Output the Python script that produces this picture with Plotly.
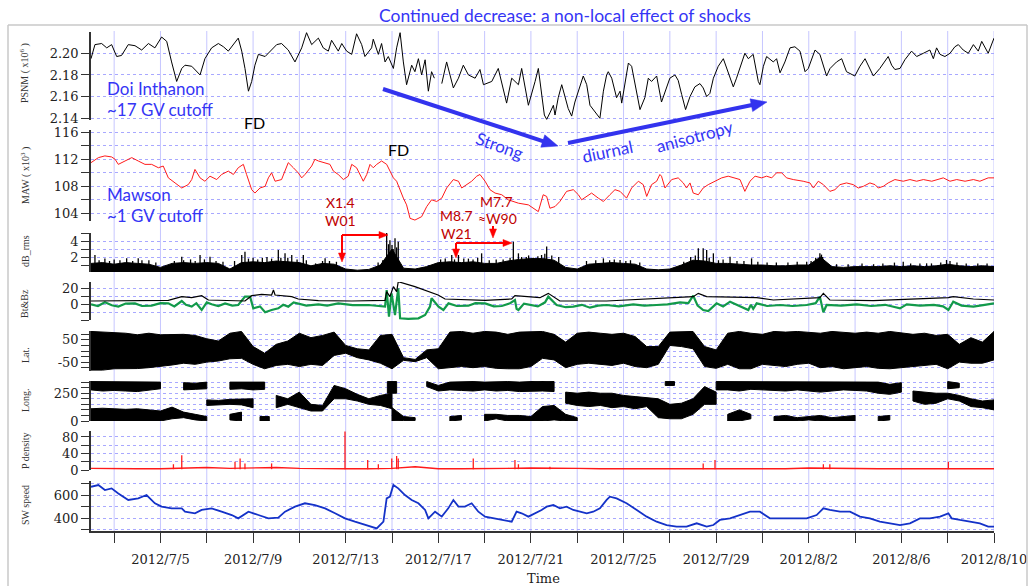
import math
import pandas as pd
import plotly.graph_objects as go

W, H = 1030, 586
T0 = pd.Timestamp("2012-07-02")

# ---------------- data: (days since 2012-07-02 00UT, value) ----------------
psnm = [(0.00,2.195),(0.17,2.208),(0.46,2.209),(0.68,2.205),(0.89,2.208),(1.11,2.197),(1.32,2.198),(1.61,2.208),(1.90,2.207),(2.19,2.203),(2.48,2.209),(2.76,2.205),(3.05,2.215),(3.27,2.211),(3.48,2.192),(3.70,2.174),(3.92,2.186),(4.06,2.189),(4.35,2.188),(4.71,2.180),(4.92,2.195),(5.21,2.205),(5.50,2.209),(5.72,2.206),(5.93,2.202),(6.15,2.208),(6.36,2.214),(6.51,2.202),(6.65,2.186),(6.80,2.165),(6.94,2.174),(7.08,2.189),(7.23,2.199),(7.52,2.197),(7.80,2.203),(8.02,2.208),(8.23,2.209),(8.52,2.203),(8.81,2.192),(9.10,2.205),(9.31,2.219),(9.53,2.208),(9.82,2.214),(10.03,2.205),(10.25,2.202),(10.39,2.212),(10.68,2.202),(10.83,2.209),(11.04,2.202),(11.26,2.199),(11.47,2.218),(11.69,2.208),(11.83,2.197),(12.12,2.205),(12.19,2.213),(12.41,2.199),(12.55,2.209),(12.70,2.192),(12.84,2.197),(13.06,2.186),(13.20,2.205),(13.35,2.219),(13.49,2.192),(13.63,2.171),(13.85,2.189),(13.99,2.183),(14.14,2.195),(14.28,2.180),(14.43,2.194),(14.57,2.165),(14.71,2.183),(14.83,2.177),(14.99,None),(15.15,2.172),(15.36,2.192),(15.65,2.168),(15.87,2.177),(16.08,2.189),(16.30,2.180),(16.59,2.177),(16.80,2.185),(16.95,2.171),(17.31,2.174),(17.59,2.186),(17.95,2.154),(18.17,2.177),(18.46,2.171),(18.60,2.186),(18.89,2.152),(19.18,2.174),(19.32,2.186),(19.58,2.143),(19.68,2.139),(19.82,2.145),(19.97,2.152),(20.04,2.143),(20.18,2.159),(20.33,2.171),(20.47,2.160),(20.61,2.149),(20.76,2.142),(20.90,2.155),(21.26,2.179),(21.41,2.171),(21.55,2.152),(21.77,2.146),(21.98,2.140),(22.13,2.165),(22.27,2.180),(22.34,2.183),(22.49,2.177),(22.70,2.159),(22.85,2.165),(22.92,2.154),(23.06,2.174),(23.21,2.191),(23.35,2.188),(23.57,2.165),(23.71,2.148),(23.92,2.159),(24.07,2.177),(24.21,2.174),(24.43,2.179),(24.64,2.155),(24.79,2.165),(25.00,2.177),(25.22,2.180),(25.36,2.175),(25.51,2.162),(25.68,2.148),(25.87,2.160),(26.08,2.169),(26.30,2.172),(26.44,2.168),(26.59,2.160),(26.73,2.163),(26.88,2.177),(27.09,2.188),(27.31,2.195),(27.52,2.183),(27.74,2.169),(27.88,2.177),(28.10,2.192),(28.24,2.200),(28.39,2.195),(28.60,2.199),(28.82,2.174),(28.89,2.171),(29.04,2.188),(29.18,2.197),(29.47,2.192),(29.61,2.195),(29.76,2.182),(29.97,2.192),(30.19,2.205),(30.40,2.206),(30.62,2.202),(30.84,2.183),(30.98,2.186),(31.27,2.203),(31.48,2.199),(31.77,2.179),(31.92,2.186),(32.20,2.192),(32.42,2.195),(32.63,2.183),(32.99,2.179),(33.21,2.188),(33.43,2.195),(33.64,2.185),(33.79,2.179),(34.07,2.186),(34.43,2.197),(34.58,2.189),(34.72,2.185),(34.94,2.186),(35.15,2.194),(35.44,2.202),(35.66,2.197),(35.95,2.200),(36.23,2.203),(36.38,2.195),(36.52,2.205),(36.67,2.199),(36.88,2.197),(37.10,2.200),(37.31,2.206),(37.46,2.208),(37.67,2.203),(37.89,2.200),(38.11,2.208),(38.32,2.202),(38.47,2.211),(38.75,2.200),(38.97,2.212),(39.00,2.214)]

maw = [(0.00,111.5),(0.32,112.25),(0.60,112.5),(0.89,112.35),(1.04,112.0),(1.18,111.25),(1.47,111.75),(1.76,112.25),(2.04,111.75),(2.33,111.25),(2.62,111.25),(2.91,110.75),(3.12,111.0),(3.34,109.25),(3.63,108.5),(3.92,107.75),(4.20,108.25),(4.35,109.0),(4.49,110.5),(4.71,109.25),(4.92,108.75),(5.14,109.5),(5.43,109.0),(5.64,109.75),(5.93,110.25),(6.15,109.75),(6.36,110.75),(6.58,111.25),(6.72,109.75),(6.94,107.5),(7.08,107.0),(7.30,107.75),(7.52,108.0),(7.66,109.25),(7.80,110.0),(7.95,108.75),(8.23,109.0),(8.38,110.25),(8.52,111.5),(8.74,110.75),(8.95,110.0),(9.10,109.25),(9.24,109.75),(9.53,111.0),(9.67,112.0),(9.82,111.75),(10.11,111.5),(10.32,111.25),(10.47,110.25),(10.68,109.75),(10.90,109.0),(11.11,109.5),(11.26,111.25),(11.47,110.75),(11.69,109.25),(11.76,108.75),(11.91,109.75),(12.05,111.25),(12.19,110.75),(12.34,111.25),(12.55,111.75),(12.77,111.25),(13.06,109.25),(13.20,108.75),(13.49,106.25),(13.63,105.25),(13.78,103.25),(13.99,103.0),(14.28,103.5),(14.50,105.0),(14.71,106.0),(14.93,105.75),(15.15,106.25),(15.36,107.75),(15.65,109.0),(15.87,108.75),(16.01,107.75),(16.23,108.25),(16.44,108.75),(16.66,109.5),(16.80,109.75),(17.02,108.75),(17.23,107.5),(17.45,107.0),(17.74,106.75),(18.02,106.0),(18.46,105.5),(18.89,105.25),(19.32,104.25),(19.53,106.75),(19.68,106.5),(19.82,104.75),(20.04,105.0),(20.25,105.75),(20.54,107.25),(20.83,107.5),(21.05,106.75),(21.19,106.0),(21.41,106.5),(21.62,107.0),(21.91,106.25),(22.13,105.75),(22.41,106.75),(22.63,107.5),(22.85,107.25),(23.13,106.25),(23.35,107.75),(23.64,108.75),(23.85,108.25),(24.00,106.5),(24.21,108.25),(24.43,108.75),(24.57,109.75),(24.64,109.5),(24.79,107.75),(25.08,109.0),(25.36,109.25),(25.58,108.5),(25.72,107.75),(25.87,108.5),(26.01,107.0),(26.23,106.75),(26.44,107.75),(26.66,108.25),(26.95,108.75),(27.24,109.25),(27.52,109.5),(27.74,109.25),(28.03,109.0),(28.24,107.25),(28.46,108.75),(28.68,109.5),(28.96,109.25),(29.18,109.5),(29.40,109.25),(29.61,110.0),(29.83,110.0),(30.04,109.25),(30.33,109.0),(30.76,108.75),(31.05,108.5),(31.20,107.75),(31.41,108.75),(31.63,108.25),(31.91,107.25),(32.13,107.5),(32.35,108.25),(32.63,108.5),(32.92,108.25),(33.14,107.75),(33.36,108.0),(33.64,108.5),(33.86,108.25),(34.00,107.75),(34.22,108.0),(34.43,108.5),(34.72,109.0),(35.08,108.75),(35.37,109.0),(35.66,108.75),(35.95,109.0),(36.31,108.75),(36.59,109.0),(36.81,109.25),(37.10,108.75),(37.39,109.0),(37.75,108.75),(38.11,109.0),(38.39,108.75),(38.75,109.25),(39.00,109.25)]

# half-day grid for band/body series
grid_days = [i * 0.5 for i in range(79)]

db_body = [1.2,1.3,1.1,1.3,1.2,1.1,0.7,1.2,1.3,1.2, 1.3,1.2,0.5,1.3,1.4,1.3,1.5,1.4,1.3,0.9,
           1.2,1.1,0.5,0.35,0.45,1.0,3.0,0.6,0.5,0.8, 1.3,1.4,1.3,1.4,1.2,1.2,1.5,1.7,1.8,1.8,
           1.6,0.7,0.5,1.1,1.2,1.3,1.2,1.1,0.5,0.4, 0.5,1.0,1.6,1.5,1.2,1.2,1.1,1.0,1.0,0.9,
           0.9,1.0,1.0,2.0,0.8,0.7,0.8,0.8,0.8,0.9, 0.8,0.9,0.8,0.9,1.1,0.9,0.8,0.9,0.8]
db_spikes = [(0.17,2.25),(0.60,1.8),(1.0,1.7),(1.54,1.83),(2.04,1.83),(2.5,1.6),(3.92,2.04),(4.3,1.7),(4.71,2.25),(5.14,2.04),(6.51,2.25),(6.65,2.67),(7.0,1.9),(7.6,2.0),(8.09,2.88),(8.38,2.46),(8.67,2.25),(9.17,2.25),(10.11,1.83),(12.77,5.17),(12.85,3.6),(12.91,4.1),(13.0,3.5),(13.13,4.33),(13.27,3.9),(15.58,2.25),(15.87,2.25),(16.3,1.8),(16.87,2.46),(17.5,1.7),(18.24,3.9),(18.46,2.46),(18.8,2.0),(19.1,1.9),(19.46,2.25),(19.68,3.3),(19.9,2.2),(22.13,1.83),(22.85,1.63),(26.23,3.08),(26.44,3.08),(26.59,2.88),(26.88,2.46),(27.60,2.04),(28.53,1.83),(30.91,1.42),(31.48,2.46),(31.55,2.3),(35.08,1.42),(36.09,1.21),(36.95,1.63)]
db_small_spikes = [(0.35,1.6),(0.8,1.5),(1.25,1.6),(1.8,1.5),(2.2,1.6),(2.8,1.3),(3.6,1.5),(4.0,1.6),(4.5,1.5),(4.9,1.7),(5.4,1.5),(5.7,1.4),(6.2,1.5),(6.8,1.8),(7.2,1.7),(7.4,1.9),(7.8,1.8),(8.2,1.9),(8.5,1.9),(8.9,1.7),(9.3,1.6),(9.7,1.2),(10.0,1.5),(10.3,1.5),(10.6,1.4),(12.4,1.3),(12.6,1.6),(13.05,3.0),(13.2,3.2),(14.6,1.0),(15.1,1.7),(15.3,1.8),(15.7,1.7),(16.1,1.8),(16.5,1.7),(16.7,1.9),(17.2,1.6),(17.8,1.7),(18.1,1.9),(18.6,2.0),(18.9,2.2),(19.3,2.1),(19.6,2.4),(20.2,2.0),(21.4,1.5),(21.8,1.6),(22.4,1.6),(22.6,1.7),(23.1,1.5),(23.3,1.6),(23.7,1.3),(25.6,1.4),(25.9,2.0),(26.1,2.2),(26.7,1.9),(27.1,1.6),(27.3,1.7),(27.9,1.5),(28.2,1.5),(28.8,1.4),(29.2,1.3),(29.6,1.3),(30.1,1.3),(30.5,1.4),(31.1,1.5),(31.3,1.9),(31.6,2.0),(32.2,1.1),(32.7,1.1),(33.3,1.2),(33.8,1.1),(34.2,1.2),(34.7,1.3),(35.4,1.2),(35.8,1.2),(36.3,1.2),(36.7,1.3),(37.1,1.5),(37.4,1.3),(37.8,1.2),(38.3,1.2),(38.7,1.2)]

bt = [(0,3.75),(1.5,4.2),(3.34,4.6),(3.92,9.2),(4.35,7.9),(4.78,10.4),(5.07,5.0),(6.65,3.75),(6.94,10.4),(7.37,12.1),(7.80,11.25),(7.88,17.5),(7.95,11.25),(8.67,9.2),(8.95,6.25),(9.82,4.2),(11.26,3.75),(12.70,4.6),(12.77,15.4),(12.91,9.2),(13.06,21.7),(13.20,15.4),(13.27,27.9),(13.99,21.7),(14.99,11.25),(15.29,6.25),(17.02,4.6),(18.17,6.25),(18.31,10.4),(19.39,7.9),(19.75,13.3),(20.25,3.75),(22.27,3.75),(26.01,9.2),(26.23,13.3),(26.59,9.2),(28.75,7.9),(29.47,5.0),(31.48,7.9),(31.63,13.3),(31.91,5.0),(33.79,4.2),(37.03,7.9),(37.24,9.2),(38.11,6.25),(39.0,5.0)]

bz = [(0,-0.4),(0.3,-2.5),(0.6,2.1),(0.9,-1.5),(1.18,-3.3),(1.5,0.5),(1.9,0.8),(2.2,-2.5),(2.62,-2.1),(3.0,1.0),(3.34,0.8),(3.6,-3.0),(3.92,3.75),(4.1,-1.0),(4.35,-3.3),(4.55,1.0),(4.78,-7.5),(5.0,2.0),(5.21,-0.4),(5.5,-2.5),(5.79,0.8),(6.1,-2.0),(6.36,-1.25),(6.65,9.2),(6.87,9.2),(7.01,-5.4),(7.3,-3.0),(7.52,-10.4),(7.80,-7.5),(8.09,-5.4),(8.3,-1.0),(8.52,-3.3),(8.75,2.0),(8.95,0.8),(9.3,-2.0),(9.82,-0.4),(10.2,-2.0),(10.68,0.8),(11.3,-1.5),(11.98,-1.25),(12.4,-2.5),(12.70,-3.3),(12.77,17.5),(12.87,-15.8),(12.98,13.3),(13.13,-13.75),(13.27,19.6),(13.35,-17.9),(13.7,-18.5),(14.14,-17.9),(14.43,-13.75),(14.64,-3.3),(14.71,7.1),(15.01,-3.3),(15.22,-7.5),(15.44,0.8),(15.8,-2.5),(16.30,-2.1),(16.6,1.0),(17.02,0.8),(17.4,-3.0),(17.74,-2.5),(18.1,1.0),(18.31,5.0),(18.38,-6.0),(18.46,-7.5),(18.7,0.5),(19.03,-1.25),(19.3,-3.0),(19.61,2.1),(19.75,9.2),(20.11,-1.25),(20.5,-4.0),(20.83,-3.3),(21.2,-1.0),(21.55,-4.6),(21.9,-2.0),(22.27,-1.25),(22.8,-3.0),(23.42,-0.4),(23.9,-2.0),(24.43,-1.25),(24.9,-0.5),(25.44,2.1),(25.8,1.0),(26.01,10.4),(26.2,-2.0),(26.44,-7.5),(26.66,-8.75),(27.02,0.8),(27.3,-3.0),(27.60,2.9),(28.03,-3.3),(28.39,-7.5),(28.5,-1.0),(28.6,-6.0),(28.75,0.8),(29.2,-2.5),(29.76,-1.25),(30.3,-2.5),(30.91,-1.25),(31.3,1.0),(31.48,9.2),(31.63,-10.4),(31.77,-1.25),(32.4,-2.0),(33.07,-0.4),(33.7,-2.5),(34.3,-1.0),(34.94,-5.4),(35.23,-0.4),(35.8,-2.0),(36.4,-1.0),(36.8,-3.0),(37.03,-7.5),(37.24,2.9),(37.6,-2.0),(38.11,-3.3),(38.6,-1.0),(39.0,0.8)]

lat_lo = [-86,-86,-80,-79,-79,-75,-70,-63,-55,-60, -50,-45,-35,-33,-60,-80,-65,-60,-70,-60,
          -65,-20,-10,-30,-40,-55,-80,-42,-48,-30, -80,-75,-70,-75,-70,-78,-80,-80,-70,-33,
          -40,-75,-60,-55,-60,-65,-55,-70,-75,-60, 25,20,10,-70,-78,-60,-80,-80,-60,-65,
          -70,-60,-55,-75,-70,-80,-75,-70,-78,-80, -75,-70,-65,-60,-80,-50,-55,-55,-40]
lat_hi = [88,85,85,80,73,80,73,73,75,70, 55,45,80,88,20,-10,30,45,80,60,
          70,85,25,10,5,70,75,-30,-38,5, 10,85,88,80,88,85,75,85,88,88,
          75,40,80,85,80,75,80,65,20,20, 85,88,88,20,5,80,88,80,75,88,
          85,88,85,80,88,85,80,85,80,88, 80,75,80,70,75,30,60,40,88]

N = None
long_upper = [(280,355),(270,355),(275,355),(270,355),(265,355),(275,355),(290,350),N,(280,345),(285,340),
              (290,350),N,(285,350),(290,350),(280,345),(285,350),N,N,N,N,
              N,N,N,N,N,N,(250,355),N,N,(310,355),
              (270,320),(280,350),(275,355),(270,355),(280,350),(270,355),(275,355),(265,350),(270,355),(270,360),
              (265,355),N,N,N,N,N,N,N,N,N,
              (320,355),N,N,N,(280,355),(280,355),(270,350),(285,355),(280,355),(275,355),
              (270,355),(280,355),(270,355),(260,355),(270,355),(280,355),(275,355),(270,355),(250,350),(240,330),
              (260,345),N,N,N,(290,355),(300,340),N,N,N]
long_lower = [(0,110),(0,115),(0,110),(0,105),(0,110),(0,100),(0,90),(20,125),(30,80),(10,60),
              (0,40),N,(10,60),(0,80),N,(0,40),N,N,N,N,
              N,N,N,N,N,N,(0,120),(5,40),(5,30),N,
              N,(0,40),(10,50),N,(0,60),(20,60),(0,50),(5,50),(0,40),(0,130),
              (10,140),(0,60),(0,30),N,N,N,N,N,N,N,
              N,N,N,N,N,(0,60),(0,100),(20,60),N,(0,40),
              (0,50),(0,30),(10,40),(0,50),(0,30),(0,40),(0,50),N,(0,40),(10,50),
              N,N,N,N,N,N,N,N,N]
long_trace = [N,N,N,N,N,N,N,N,N,N,
              (140,190),(145,185),(150,195),(145,200),(120,200),N,(120,230),(150,200),(120,260),(90,150),
              (90,140),(200,320),(200,290),(180,240),(150,200),(140,230),(110,250),N,N,N,
              N,N,N,N,N,N,N,N,N,N,
              N,(160,260),(140,250),(130,260),(140,250),(120,250),(130,230),(110,220),(130,210),(30,200),
              (20,150),(20,160),(60,200),(150,310),(150,260),N,N,N,N,N,
              N,N,N,N,N,N,N,N,N,N,
              N,(180,270),(150,260),(160,250),(200,250),(180,230),(130,200),(120,180),(100,190)]

p_base_days = list(range(40))
p_base = [4,3,3,3,5,6,4,5,6,4, 3,3,3,4,8,3,3,3,4,5, 5,4,3,3,3,3,4,3,3,3, 3,5,4,3,3,3,3,3,3,3]
p_spikes = [(3.56,14),(3.92,36),(6.22,20),(6.44,28),(6.65,16),(7.80,16),(10.97,93),(11.95,24),(12.41,14),(12.99,28),(13.20,34),(13.27,28),(16.51,28),(18.31,24),(18.46,14),(19.82,8),(26.44,16),(26.95,24),(31.63,14),(31.91,14),(37.03,20)]

sw = [(0,672),(0.32,687),(0.60,643),(0.89,658),(1.18,614),(1.61,557),(2.04,571),(2.40,600),(2.76,528),(3.05,499),(3.48,484),(3.92,484),(4.06,455),(4.49,441),(4.78,470),(5.21,484),(5.64,455),(6.08,426),(6.36,397),(6.80,455),(7.23,426),(7.66,397),(8.09,403),(8.38,455),(8.81,499),(9.24,528),(9.67,513),(10.11,484),(10.54,441),(10.97,397),(11.40,368),(11.83,339),(12.12,325),(12.34,310),(12.63,368),(12.77,571),(12.91,586),(13.06,687),(13.27,658),(13.56,600),(13.85,557),(14.14,528),(14.43,470),(14.57,397),(14.86,455),(15.15,412),(15.43,484),(15.65,557),(15.87,499),(16.15,499),(16.44,528),(16.73,455),(17.02,412),(17.45,397),(17.88,383),(18.17,368),(18.38,455),(18.60,441),(18.89,412),(19.18,441),(19.46,470),(19.68,499),(19.97,513),(20.25,484),(20.54,499),(20.83,470),(21.12,455),(21.41,441),(21.69,455),(21.98,484),(22.27,557),(22.41,586),(22.70,571),(23.13,528),(23.57,470),(24.00,412),(24.43,368),(24.86,339),(25.29,325),(25.72,325),(26.16,354),(26.59,325),(26.88,339),(27.16,383),(27.60,397),(28.03,426),(28.46,455),(28.89,455),(29.32,397),(29.76,397),(30.33,397),(30.91,397),(31.34,426),(31.63,484),(31.91,470),(32.35,455),(32.78,455),(33.21,412),(33.64,397),(34.07,368),(34.51,354),(34.94,339),(35.37,354),(35.80,397),(36.23,397),(36.67,412),(37.03,441),(37.17,397),(37.53,383),(37.96,368),(38.39,354),(38.75,325),(39.00,325)]

# ---------------- ticks ----------------
x_major_days = [3, 7, 11, 15, 19, 23, 27, 31, 35, 39]
x_major_labels = ["2012/7/5", "2012/7/9", "2012/7/13", "2012/7/17", "2012/7/21",
                  "2012/7/25", "2012/7/29", "2012/8/2", "2012/8/6", "2012/8/10"]
x_minor_days = [1, 5, 9, 13, 17, 21, 25, 29, 33, 37]
psnm_ticks, psnm_text, psnm_minor = [2.14, 2.16, 2.18, 2.20], ["2.14", "2.16", "2.18", "2.20"], []
maw_ticks, maw_text, maw_minor = [104, 108, 112, 116], ["104", "108", "112", "116"], [106, 110, 114]
db_ticks, db_text, db_minor = [2, 4], ["2", "4"], [1, 3, 5]
b_ticks, b_text, b_minor = [0, 20], ["0", "20"], [-20, -10, 10]
lat_ticks, lat_text, lat_minor = [-50, 50], ["-50", "50"], [-75, -25, 0, 25, 75]
long_ticks, long_text, long_minor = [0, 250], ["0", "250"], [50, 100, 150, 200, 300, 350]
p_ticks, p_text, p_minor = [0, 40, 80], ["0", "40", "80"], [20, 60]
sw_ticks, sw_text, sw_minor = [400, 600], ["400", "600"], [300, 500, 700]

# ---------------- helpers ----------------
def dt(d):
    return T0 + pd.Timedelta(days=d)

def split(pairs):
    return [dt(d) for d, v in pairs], [v for d, v in pairs]

def spikes(pairs, base=0.0):
    xs, ys = [], []
    for d, v in pairs:
        xs += [dt(d), dt(d), None]
        ys += [base, v, None]
    return xs, ys

def band_polys(days, lohi):
    xs, ys = [], []
    def flush(run):
        if not run:
            return
        pts = run if len(run) > 1 else [(run[0][0] - 0.2, run[0][1], run[0][2]), (run[0][0] + 0.2, run[0][1], run[0][2])]
        fwd = [(dt(d), hi) for d, lo, hi in pts]
        back = [(dt(d), lo) for d, lo, hi in reversed(pts)]
        for x, y in fwd + back + [fwd[0]]:
            xs.append(x); ys.append(y)
        xs.append(None); ys.append(None)
    run = []
    for d, v in zip(days, lohi):
        if v is None:
            flush(run); run = []
        else:
            run.append((d, v[0], v[1]))
    flush(run)
    return xs, ys

def px(x): return x / W
def py(y): return 1 - y / H

BLUE_TXT = "#3535f5"
DKRED = "#c00000"
GRID_H = "#a8a8ff"
GRID_V = "#c6c6ff"
AX = "#333333"

fig = go.Figure()

# 1 PSNM
x, y = split(psnm)
fig.add_trace(go.Scatter(x=x, y=y, mode="lines", line=dict(color="black", width=1), yaxis="y", connectgaps=False))
# 2 MAW
x, y = split(maw)
fig.add_trace(go.Scatter(x=x, y=y, mode="lines", line=dict(color="#ff1a1a", width=1), yaxis="y2"))
# 3 dB_rms
fig.add_trace(go.Scatter(x=[dt(d) for d in grid_days], y=db_body, mode="lines", fill="tozeroy",
                         fillcolor="black", line=dict(color="black", width=1), yaxis="y3"))
x, y = spikes(db_spikes + db_small_spikes)
fig.add_trace(go.Scatter(x=x, y=y, mode="lines", line=dict(color="black", width=1.3), yaxis="y3"))
# 4 Bt & Bz
x, y = split(bz)
fig.add_trace(go.Scatter(x=x, y=y, mode="lines", line=dict(color="#129a4a", width=2.2), yaxis="y4"))
x, y = split(bt)
fig.add_trace(go.Scatter(x=x, y=y, mode="lines", line=dict(color="black", width=1.2), yaxis="y4"))
# 5 Lat
x, y = band_polys(grid_days, list(zip(lat_lo, lat_hi)))
fig.add_trace(go.Scatter(x=x, y=y, mode="lines", fill="toself", fillcolor="black",
                         line=dict(color="black", width=1), yaxis="y5"))
# 6 Long
for band in (long_upper, long_lower, long_trace):
    x, y = band_polys(grid_days, band)
    fig.add_trace(go.Scatter(x=x, y=y, mode="lines", fill="toself", fillcolor="black",
                             line=dict(color="black", width=1), yaxis="y6"))
# 7 P density
fig.add_trace(go.Scatter(x=[dt(d) for d in p_base_days], y=p_base, mode="lines",
                         line=dict(color="#ff1a1a", width=1.4), yaxis="y7"))
x, y = spikes(p_spikes, 2.0)
fig.add_trace(go.Scatter(x=x, y=y, mode="lines", line=dict(color="#ff1a1a", width=1.3), yaxis="y7"))
# 8 SW speed
x, y = split(sw)
fig.add_trace(go.Scatter(x=x, y=y, mode="lines", line=dict(color="#1432c8", width=1.8), yaxis="y8"))

# ---------------- axes ----------------
tickfont = dict(family="DejaVu Serif", size=13, color="#222")
panels = [
    ("yaxis", 31.5, 120, [2.1384, 2.2201], psnm_ticks, psnm_text, psnm_minor),
    ("yaxis2", 130, 221, [102.86, 116.34], maw_ticks, maw_text, maw_minor),
    ("yaxis3", 233, 272, [0.125, 5.0], db_ticks, db_text, db_minor),
    ("yaxis4", 282, 320, [-20, 27.5], b_ticks, b_text, b_minor),
    ("yaxis5", 331, 371, [-90, 90], lat_ticks, lat_text, lat_minor),
    ("yaxis6", 381, 421, [0, 360], long_ticks, long_text, long_minor),
    ("yaxis7", 431, 470, [0, 94.5], p_ticks, p_text, p_minor),
    ("yaxis8", 481, 531, [287, 722], sw_ticks, sw_text, sw_minor),
]
layout_axes = {}
for name, top, bot, rng, tv, tt, mv in panels:
    layout_axes[name] = dict(domain=[py(bot), py(top)], range=rng, anchor="x",
                             tickmode="array", tickvals=tv, ticktext=tt,
                             ticks="outside", ticklen=8, tickwidth=1.2, tickcolor=AX,
                             showline=True, linecolor=AX, linewidth=1.5,
                             showgrid=True, gridcolor=GRID_H, griddash="dot", gridwidth=1,
                             minor=dict(tickmode="array", tickvals=mv, ticks="outside", ticklen=8,
                                        tickwidth=1.2, tickcolor=AX, showgrid=True,
                                        gridcolor=GRID_H, griddash="dot", gridwidth=1),
                             zeroline=False, tickfont=tickfont, fixedrange=True, automargin=False)

layout_axes["xaxis"] = dict(domain=[px(91), px(994)], anchor="y8", type="date",
                            range=[dt(0), dt(39)], tickmode="array",
                            tickvals=[dt(d) for d in x_major_days], ticktext=x_major_labels,
                            ticks="outside", ticklen=10, tickwidth=1.2, tickcolor=AX,
                            minor=dict(tickmode="array", tickvals=[dt(d) for d in x_minor_days],
                                       ticks="outside", ticklen=10, tickwidth=1.2, tickcolor=AX, showgrid=False),
                            showline=True, linecolor=AX, linewidth=1.5, showgrid=False,
                            zeroline=False, tickfont=tickfont, ticklabelstandoff=6,
                            fixedrange=True, automargin=False)

shapes = []
for d in sorted(x_major_days + x_minor_days):
    shapes.append(dict(type="line", xref="x", yref="paper", x0=dt(d), x1=dt(d),
                       y0=py(531), y1=py(31), line=dict(color=GRID_V, width=1), layer="below"))
# slide frame
shapes += [
    dict(type="line", xref="paper", yref="paper", x0=px(8), x1=px(1027), y0=py(25), y1=py(25), line=dict(color="#c8c8c8", width=1.5)),
    dict(type="line", xref="paper", yref="paper", x0=px(8), x1=px(8), y0=py(25), y1=0, line=dict(color="#c8c8c8", width=1.5)),
    dict(type="line", xref="paper", yref="paper", x0=px(1027), x1=px(1027), y0=py(25), y1=0, line=dict(color="#c8c8c8", width=1.5)),
]

def arrow(tx, ty, hx, hy, color, width, head_len, head_w):
    L = math.hypot(hx - tx, hy - ty)
    ux, uy = (hx - tx) / L, (hy - ty) / L
    nx, ny = -uy, ux
    ex, ey = hx - ux * head_len * 0.8, hy - uy * head_len * 0.8
    shapes.append(dict(type="line", xref="paper", yref="paper", x0=px(tx), y0=py(ty), x1=px(ex), y1=py(ey),
                       line=dict(color=color, width=width)))
    bx, by = hx - ux * head_len, hy - uy * head_len
    pts = [(hx, hy), (bx + nx * head_w / 2, by + ny * head_w / 2), (bx - nx * head_w / 2, by - ny * head_w / 2)]
    path = "M " + " L ".join(f"{px(a):.5f},{py(b):.5f}" for a, b in pts) + " Z"
    shapes.append(dict(type="path", xref="paper", yref="paper", path=path, fillcolor=color,
                       line=dict(color=color, width=0.5)))

arrow(383, 89, 558, 146, "#3333ee", 4, 16, 13)
arrow(568, 143, 767, 102, "#3333ee", 4, 16, 13)
arrow(342, 235, 342, 262, "#ff0000", 2, 9, 7)
arrow(342, 235, 388, 235, "#ff0000", 2, 9, 7)
arrow(456, 243, 456, 258, "#ff0000", 2, 9, 7)
arrow(456, 243, 512, 243, "#ff0000", 2, 9, 7)
arrow(493, 226, 493, 238, "#ff0000", 2, 9, 7)

ann = []
def text(x, y, s, size, color, xanchor="center", angle=0, family="Lato"):
    ann.append(dict(x=px(x), y=py(y), xref="paper", yref="paper", text=s, showarrow=False,
                    xanchor=xanchor, yanchor="middle", textangle=angle,
                    font=dict(family=family, size=size, color=color)))

text(565, 15, "Continued decrease: a non-local effect of shocks", 17.5, BLUE_TXT)
text(105, 88, "Doi Inthanon", 17, BLUE_TXT, "left")
text(105, 109, "~17 GV cutoff", 17, BLUE_TXT, "left")
text(105, 195, "Mawson", 17, BLUE_TXT, "left")
text(105, 216, "~1 GV cutoff", 17, BLUE_TXT, "left")
text(254, 122, "FD", 16, "black")
text(398, 149, "FD", 16, "black")
text(340, 203, "X1.4", 14, DKRED)
text(340, 220, "W01", 14, DKRED)
text(456, 216, "M8.7", 14, DKRED)
text(456, 233, "W21", 14, DKRED)
text(496, 201, "M7.7", 14, DKRED)
text(497, 218, "≈W90", 14, DKRED)
text(499, 146, "Strong", 17, BLUE_TXT, angle=20)
text(607, 152, "diurnal", 17, BLUE_TXT, angle=-12)
text(694, 136, "anisotropy", 17, BLUE_TXT, angle=-15)

ylabels = [("PSNM ( x10<sup>6</sup> )", 73), ("MAW ( x10<sup>3</sup> )", 176), ("dB_rms", 251),
           ("Bt&Bz", 304), ("Lat.", 355), ("Long.", 400), ("P density", 451), ("SW speed", 505)]
for s, yc in ylabels:
    ann.append(dict(x=px(25), y=py(yc), xref="paper", yref="paper", text=s, showarrow=False,
                    textangle=-90, xanchor="center", yanchor="middle",
                    font=dict(family="Liberation Serif", size=10, color="#333")))
text(543, 578, "Time", 13, "#222", family="DejaVu Serif")

fig.update_layout(template="none", width=W, height=H, autosize=False,
                  margin=dict(l=0, r=0, t=0, b=0, pad=0, autoexpand=False),
                  paper_bgcolor="white", plot_bgcolor="rgba(0,0,0,0)", showlegend=False,
                  shapes=shapes, annotations=ann, **layout_axes)

fig.write_html("out.html", config={"responsive": False, "displayModeBar": False},
               default_width="1030px", default_height="586px")
